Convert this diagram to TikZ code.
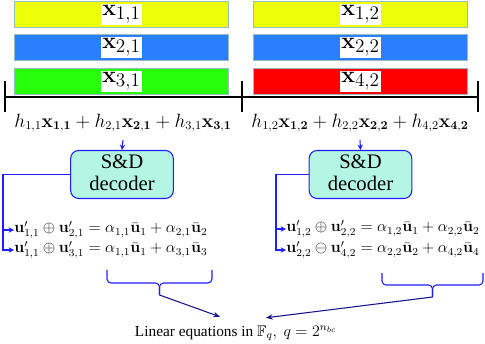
\documentclass[tikz,border=0pt]{standalone}
\usepackage{amsmath,amssymb}
\usepackage[no-math]{fontspec}
\newfontfamily\timesfont{Liberation Serif}
\usetikzlibrary{arrows.meta, positioning, calc}

\definecolor{barYellow}{RGB}{238,255,10}
\definecolor{barBlue}{RGB}{42,127,255}
\definecolor{barGreen}{RGB}{40,255,10}
\definecolor{barRed}{RGB}{255,0,0}
\definecolor{barEdge}{RGB}{150,190,190}
\definecolor{decFill}{RGB}{180,246,228}
\definecolor{lineBlue}{RGB}{30,30,255}
\definecolor{navyArr}{RGB}{20,20,140}

\newcommand{\barlbl}[1]{{\setlength{\fboxsep}{1pt}\colorbox{white}{$#1$}}}
\newcommand{\dectxt}[2]{\begin{tabular}{@{}c@{}}#1\\[-1pt]#2\end{tabular}}

\tikzset{
  bar/.style={draw=barEdge, line width=0.8pt, minimum width=161pt, minimum height=20pt, inner sep=0pt, font=\fontsize{19}{22}\selectfont},
  decoder/.style={draw=lineBlue, thick, rounded corners=6pt, fill=decFill, minimum width=77pt, minimum height=34pt, inner sep=1pt, font=\timesfont\fontsize{15.5}{17.5}\selectfont},
  fb/.style={draw=lineBlue, thick, -{Stealth[length=4pt,width=4pt]}},
  brc/.style={draw=lineBlue, thick, rounded corners=3pt},
  navyline/.style={draw=navyArr, thick, -{Stealth[length=5pt,width=4pt]}},
  eqn/.style={anchor=west, inner sep=0pt, font=\large},
  sumtxt/.style={font=\fontsize{13.5}{16}\selectfont}
}

\begin{document}
\begin{tikzpicture}[x=0.75pt, y=-0.75pt]
  \useasboundingbox (0,0) rectangle (485,343);

  % user 1
  \node[bar, fill=barYellow] (x11) at (121.5,14.5) {\barlbl{\mathbf{x}_{1,1}}};
  \node[bar, fill=barBlue] (x21) at (121.5,47.5) {\barlbl{\mathbf{x}_{2,1}}};
  \node[bar, fill=barGreen] (x31) at (121.5,81.5) {\barlbl{\mathbf{x}_{3,1}}};
  % user 2
  \node[bar, fill=barYellow] (x12) at (360.5,14.5) {\barlbl{\mathbf{x}_{1,2}}};
  \node[bar, fill=barBlue] (x22) at (360.5,47.5) {\barlbl{\mathbf{x}_{2,2}}};
  \node[bar, fill=barRed] (x42) at (360.5,81.5) {\barlbl{\mathbf{x}_{4,2}}};

  % time axis
  \coordinate (axl) at (5,97);
  \coordinate (axr) at (478,97);
  \draw[line width=1.1pt] (axl) -- (axr);
  \foreach \tx in {5,242,478}
    \draw[line width=1.1pt] (\tx,81) -- (\tx,112);

  % received sums
  \node[sumtxt] (s1) at (123,123) {$h_{1,1}\mathbf{x_{1,1}}+h_{2,1}\mathbf{x_{2,1}}+h_{3,1}\mathbf{x_{3,1}}$};
  \node[sumtxt] (s2) at (360,123) {$h_{1,2}\mathbf{x_{1,2}}+h_{2,2}\mathbf{x_{2,2}}+h_{4,2}\mathbf{x_{4,2}}$};

  \node[decoder] (dec1) at (122,174.5) {\dectxt{S\&D}{decoder}};
  \node[decoder] (dec2) at (360.5,174.5) {\dectxt{S\&D}{decoder}};
  \draw[fb] (s1.south) ++(0,3) -- (dec1.north);
  \draw[fb] (s2.south) ++(0,3) -- (dec2.north);

  % decoded equations
  \node[eqn] (e11) at (14,230) {$\mathbf{u}'_{1,1}\oplus\mathbf{u}'_{2,1}=\alpha_{1,1}\bar{\mathbf{u}}_1+\alpha_{2,1}\bar{\mathbf{u}}_2$};
  \node[eqn] (e12) at (14,250) {$\mathbf{u}'_{1,1}\oplus\mathbf{u}'_{3,1}=\alpha_{1,1}\bar{\mathbf{u}}_1+\alpha_{3,1}\bar{\mathbf{u}}_3$};
  \node[eqn] (e21) at (286,229) {$\mathbf{u}'_{1,2}\oplus\mathbf{u}'_{2,2}=\alpha_{1,2}\bar{\mathbf{u}}_1+\alpha_{2,2}\bar{\mathbf{u}}_2$};
  \node[eqn] (e22) at (286,250) {$\mathbf{u}'_{2,2}\ominus\mathbf{u}'_{4,2}=\alpha_{2,2}\bar{\mathbf{u}}_2+\alpha_{4,2}\bar{\mathbf{u}}_4$};

  \coordinate (c1) at (3,250);
  \coordinate (c2) at (276,250);
  \draw[fb] (dec1.west) -| (c1) -- (e12.west);
  \draw[fb] (e11.west -| c1) -- (e11.west);
  \draw[fb] (dec2.west) -| (c2) -- (e22.west);
  \draw[fb] (e21.west -| c2) -- (e21.west);

  % braces
  \coordinate (b1l) at (107,270);
  \coordinate (b1r) at (212,270);
  \coordinate (b2l) at (382,273);
  \coordinate (b2r) at (483,273);
  \coordinate (tip1) at (159.5,295);
  \coordinate (tip2) at (432.5,297);
  \draw[brc] (b1l) |- ($(tip1)+(0,-12)$) -- (tip1);
  \draw[brc] (b1r) |- ($(tip1)+(0,-12)$) -- (tip1);
  \draw[brc] (b2l) |- ($(tip2)+(0,-12)$) -- (tip2);
  \draw[brc] (b2r) |- ($(tip2)+(0,-12)$) -- (tip2);

  \node[font=\timesfont\fontsize{11.5}{13}\selectfont] (lin) at (236,333) {Linear equations in $\mathbb{F}_q,~q=2^{n_{bc}}$};
  \draw[navyline] (tip1) -- ($(lin.north)+(-16,-4)$);
  \draw[navyline] (tip2) -- ($(lin.north)+(30,-3)$);
\end{tikzpicture}
\end{document}
